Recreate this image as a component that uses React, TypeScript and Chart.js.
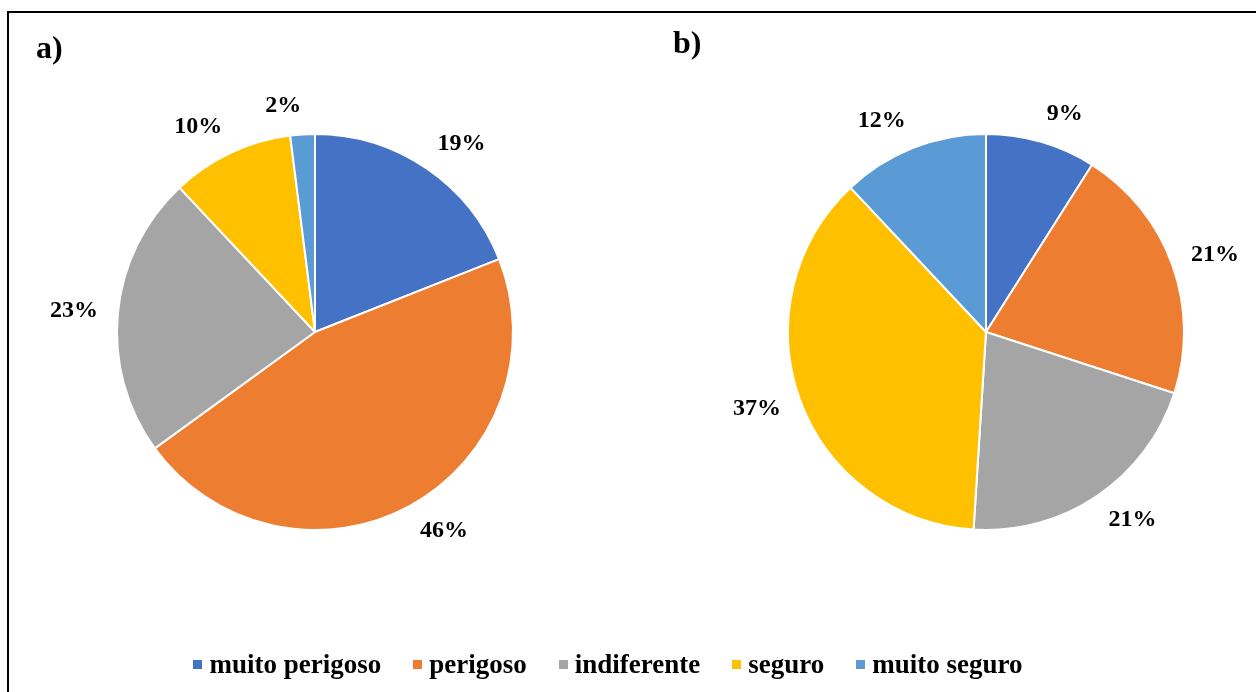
import React, { useEffect, useRef } from "react";
import { Chart, registerables } from "chart.js";

Chart.register(...registerables);

const categories = ["muito perigoso", "perigoso", "indiferente", "seguro", "muito seguro"];
const valuesA = [19, 46, 23, 10, 2];
const valuesB = [9, 21, 21, 37, 12];
const colors = ["#4472C4", "#ED7D31", "#A5A5A5", "#FFC000", "#5B9BD5"];

const SERIF = '"Liberation Serif", "Times New Roman", serif';

const pctLabels = {
  id: "pctLabels",
  afterDatasetsDraw(chart: any) {
    const ctx = chart.ctx;
    const meta = chart.getDatasetMeta(0);
    const data = chart.data.datasets[0].data as number[];
    ctx.save();
    ctx.font = `bold 24px ${SERIF}`;
    ctx.fillStyle = "#000";
    ctx.textAlign = "center";
    ctx.textBaseline = "middle";
    meta.data.forEach((arc: any, i: number) => {
      const p = arc.getProps(["x", "y", "startAngle", "endAngle", "outerRadius"], true);
      const mid = (p.startAngle + p.endAngle) / 2;
      const ux = Math.cos(mid);
      const uy = Math.sin(mid);
      const text = `${data[i]}%`;
      const w = ctx.measureText(text).width;
      const h = 18;
      const d = p.outerRadius + 20;
      const x = p.x + ux * d + Math.sign(ux) * (w / 2);
      const y = p.y + uy * d + uy * (h / 2);
      ctx.fillText(text, x, y);
    });
    ctx.restore();
  },
};

function PieChart({ values, left, padLeft }: { values: number[]; left: number; padLeft: number }) {
  const ref = useRef<HTMLCanvasElement>(null);
  useEffect(() => {
    const chart = new Chart(ref.current!, {
      type: "pie",
      data: {
        labels: categories,
        datasets: [
          {
            data: values,
            backgroundColor: colors,
            borderColor: "#ffffff",
            borderWidth: 2,
            radius: 198,
          } as any,
        ],
      },
      options: {
        animation: false,
        responsive: false,
        maintainAspectRatio: false,
        layout: { padding: { left: padLeft, right: 0, top: 0, bottom: 28 } },
        plugins: { legend: { display: false }, tooltip: { enabled: false } },
      },
      plugins: [pctLabels],
    });
    return () => chart.destroy();
  }, []);
  return (
    <canvas
      ref={ref}
      width={628}
      height={692}
      style={{ position: "absolute", left, top: 0, width: 628, height: 692 }}
    />
  );
}

export default function App() {
  return (
    <div
      style={{
        position: "fixed",
        left: 0,
        top: 0,
        width: 1256,
        height: 692,
        overflow: "hidden",
        background: "#fff",
        fontFamily: SERIF,
      }}
    >
      <div
        style={{
          position: "absolute",
          left: 7,
          top: 11,
          width: 1400,
          height: 900,
          border: "2px solid #000",
        }}
      />
      <PieChart values={valuesA} left={0} padLeft={2} />
      <PieChart values={valuesB} left={628} padLeft={88} />
      <div style={{ position: "absolute", left: 36, top: 31, fontSize: 32, lineHeight: "32px", fontWeight: "bold" }}>a)</div>
      <div style={{ position: "absolute", left: 673, top: 26, fontSize: 32, lineHeight: "32px", fontWeight: "bold" }}>b)</div>
      <div
        style={{
          position: "absolute",
          left: 0,
          width: 1216,
          top: 649,
          display: "flex",
          justifyContent: "center",
          alignItems: "center",
          fontSize: 27,
          lineHeight: "30px",
          fontWeight: "bold",
        }}
      >
        {categories.map((c, i) => (
          <div key={c} style={{ display: "flex", alignItems: "center", marginLeft: i === 0 ? 0 : 32 }}>
            <span style={{ display: "inline-block", width: 9, height: 9, background: colors[i], marginRight: 7 }} />
            <span>{c}</span>
          </div>
        ))}
      </div>
    </div>
  );
}
